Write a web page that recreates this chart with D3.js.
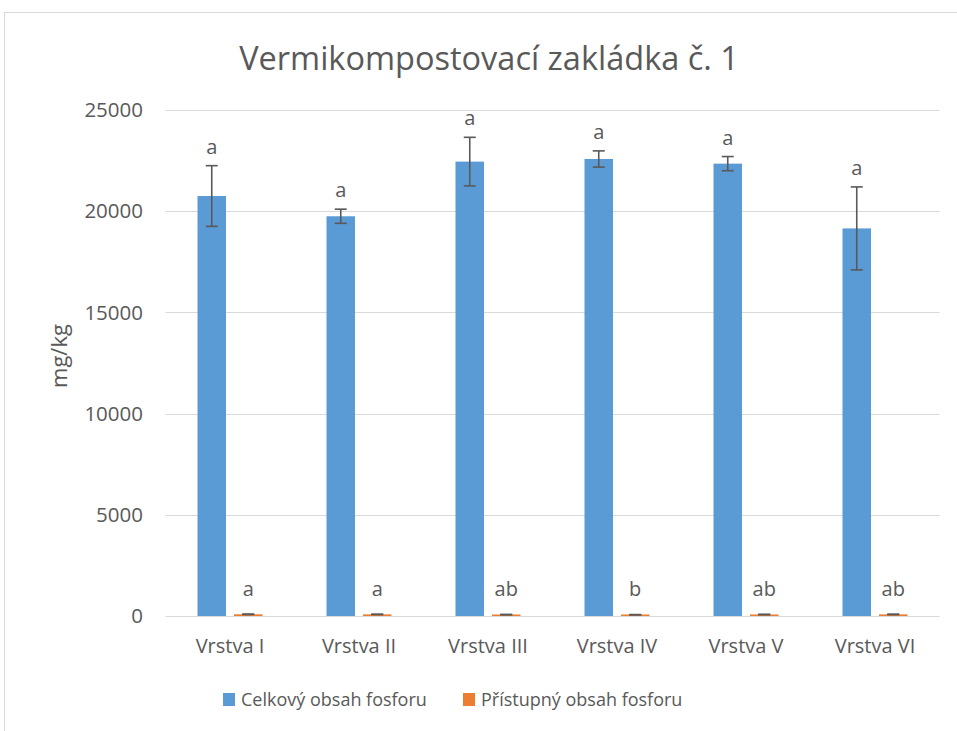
<!DOCTYPE html>
<html>
<head>
<meta charset="utf-8">
<script src="https://cdn.jsdelivr.net/npm/d3@7"></script>
<style>
  body { margin: 0; background: #fff; }
  text { font-family: "Open Sans", "Noto Sans", sans-serif; fill: #595959; }
</style>
</head>
<body>
<svg id="chart" width="957" height="731"></svg>
<script>
// data
const categories = ["Vrstva I", "Vrstva II", "Vrstva III", "Vrstva IV", "Vrstva V", "Vrstva VI"];
const seriesNames = ["Celkový obsah fosforu", "Přístupný obsah fosforu"];
const celkovy = [20750, 19750, 22450, 22580, 22350, 19150];
const celkovyErr = [1500, 350, 1200, 400, 350, 2050];
const celkovyLetters = ["a", "a", "a", "a", "a", "a"];
const pristupny = [85, 80, 70, 65, 75, 80];
const pristupnyErr = [10, 8, 8, 6, 8, 10];
const pristupnyLetters = ["a", "a", "ab", "b", "ab", "ab"];
const yTicks = [0, 5000, 10000, 15000, 20000, 25000];
const colors = ["#5b9bd5", "#ed7d31"];

const svg = d3.select("#chart");

// chart border
svg.append("rect")
    .attr("x", 4.5).attr("y", 12.5)
    .attr("width", 1000).attr("height", 1000)
    .attr("fill", "none")
    .attr("stroke", "#d9d9d9");

const plotLeft = 165.5, plotRight = 939.5, plotTop = 110, plotBottom = 616;

let x = d3.scaleBand().domain(categories).range([plotLeft, plotRight]).padding(0);
let y = d3.scaleLinear().domain([0, 25000]).range([plotBottom, plotTop]);
let xs = d3.scaleBand().domain([0, 1])
    .range([x.bandwidth() / 2 - 32.5, x.bandwidth() / 2 + 32.5])
    .paddingInner(0.219).paddingOuter(0);

// gridlines
svg.append("g").selectAll("line")
    .data(yTicks)
    .join("line")
    .attr("x1", plotLeft).attr("x2", plotRight)
    .attr("y1", d => Math.round(y(d)) + 0.5)
    .attr("y2", d => Math.round(y(d)) + 0.5)
    .attr("stroke", "#d9d9d9")
    .attr("stroke-width", 1);

// y tick labels
svg.append("g").selectAll("text")
    .data(yTicks)
    .join("text")
    .attr("x", 143)
    .attr("y", d => y(d))
    .attr("dy", "0.35em")
    .attr("text-anchor", "end")
    .style("font-size", "20.5px")
    .text(d => d);

// y axis title
svg.append("text")
    .attr("transform", "translate(67,356) rotate(-90)")
    .attr("text-anchor", "middle")
    .style("font-size", "22px")
    .text("mg/kg");

// title
svg.append("text")
    .attr("x", 489).attr("y", 70)
    .attr("text-anchor", "middle")
    .style("font-size", "32.5px")
    .text("Vermikompostovací zakládka č. 1");

const series = [
    {values: celkovy, err: celkovyErr, letters: celkovyLetters},
    {values: pristupny, err: pristupnyErr, letters: pristupnyLetters}
];

series.forEach(function(s, si) {
    let g = svg.append("g");
    categories.forEach(function(cat, i) {
        let bx = x(cat) + xs(si);
        let bw = xs.bandwidth();
        let v = s.values[i], e = s.err[i];
        let h = Math.max(plotBottom - y(v), 1.5);

        g.append("rect")
            .attr("x", bx).attr("y", plotBottom - h)
            .attr("width", bw).attr("height", h)
            .attr("fill", colors[si]);

        // error bar
        let cx = bx + bw / 2;
        let eg = g.append("g")
            .attr("stroke", "#595959")
            .attr("stroke-width", 1.6);
        eg.append("line")
            .attr("x1", cx).attr("x2", cx)
            .attr("y1", y(v + e)).attr("y2", y(v - e));
        eg.append("line")
            .attr("x1", cx - 6).attr("x2", cx + 6)
            .attr("y1", y(v + e)).attr("y2", y(v + e));
        eg.append("line")
            .attr("x1", cx - 6).attr("x2", cx + 6)
            .attr("y1", y(v - e)).attr("y2", y(v - e));

        // significance letter
        g.append("text")
            .attr("x", cx)
            .attr("y", Math.min(y(v + e) - 12, plotBottom - 20))
            .attr("text-anchor", "middle")
            .style("font-size", "20px")
            .text(s.letters[i]);
    });
});

// x category labels
svg.append("g").selectAll("text")
    .data(categories)
    .join("text")
    .attr("x", d => x(d) + x.bandwidth() / 2)
    .attr("y", 653)
    .attr("text-anchor", "middle")
    .style("font-size", "20px")
    .text(d => d);

// legend
const legendX = [223, 463];
let legend = svg.append("g").selectAll("g")
    .data(seriesNames)
    .join("g")
    .attr("transform", (d, i) => "translate(" + legendX[i] + ",693)");
legend.append("rect")
    .attr("width", 12).attr("height", 13)
    .attr("fill", (d, i) => colors[i]);
legend.append("text")
    .attr("x", 18).attr("y", 13)
    .style("font-size", "18px")
    .text(d => d);
</script>
</body>
</html>
